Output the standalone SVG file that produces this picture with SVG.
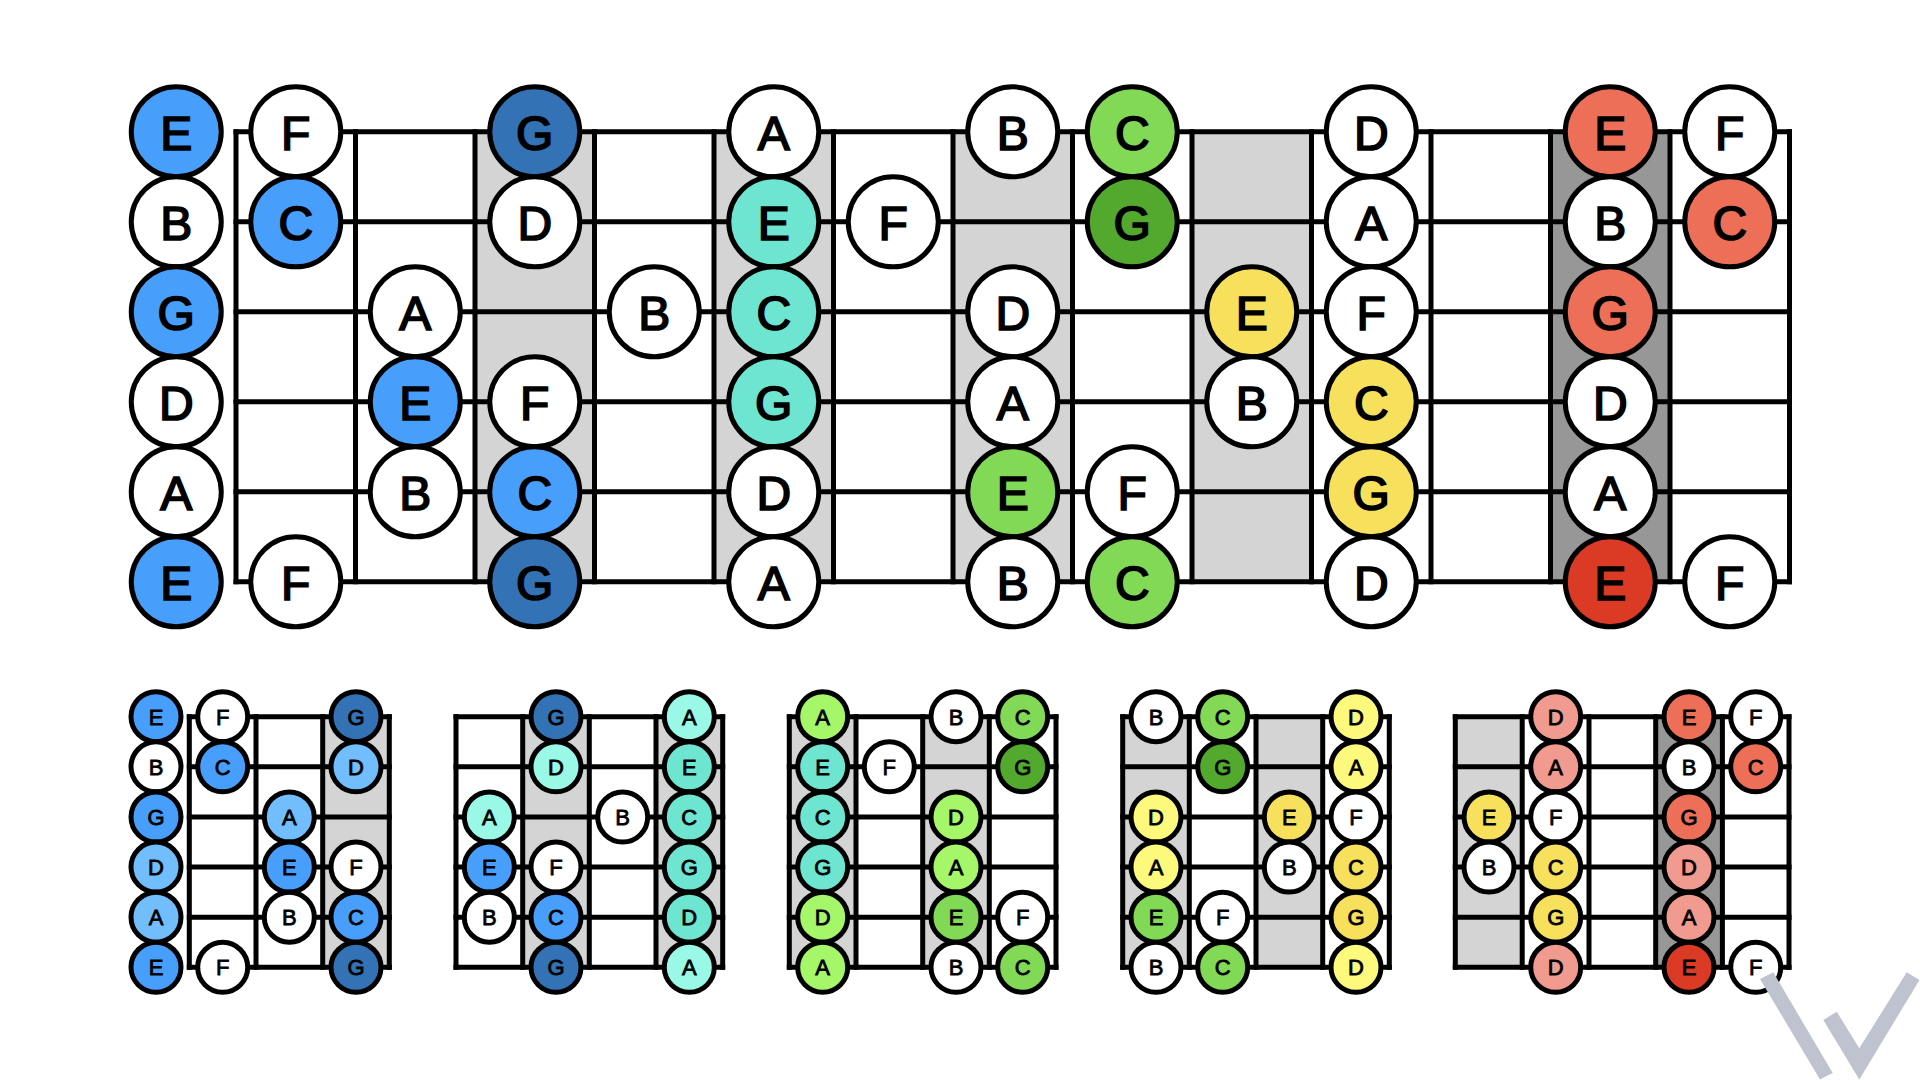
<svg xmlns="http://www.w3.org/2000/svg" width="1920" height="1080" viewBox="0 0 1920 1080">
<style>
.bg{fill:#fff}
.sh{fill:#d4d4d4}
.dk{fill:#979797}
.ln{stroke:#000;stroke-width:5;fill:none;stroke-linecap:square}
circle{stroke:#000;stroke-width:5}
text{font-family:"Liberation Sans",Arial,sans-serif;text-anchor:middle;fill:#000;stroke:#000}
.b text{font-size:48px;stroke-width:1.7px}
.s text{font-size:22px;stroke-width:.8px}
.w{fill:#fff}.bl{fill:#479ffb}.db{fill:#3272b5}.lb{fill:#72bdfb}
.lt{fill:#9af8e6}.t{fill:#6ee5d0}
.lg{fill:#a5f668}.g{fill:#82d955}.dg{fill:#52a92e}
.ly{fill:#fdf97c}.y{fill:#f6e05c}
.p{fill:#f19a90}.r{fill:#ed6f58}.dr{fill:#db3a25}
.wm{fill:#bfc3cf}
</style>
<rect class="bg" width="1920" height="1080"/>
<g id="connectors">
<g id="big-neck">
<rect class="sh" x="475" y="131.8" width="119.5" height="450"/>
<rect class="sh" x="714" y="131.8" width="119.5" height="450"/>
<rect class="sh" x="953" y="131.8" width="119.5" height="450"/>
<rect class="sh" x="1192" y="131.8" width="119.5" height="450"/>
<rect class="dk" x="1550.5" y="131.8" width="119.5" height="450"/>
<path class="ln" d="M236 131.8H1789.5M236 221.8H1789.5M236 311.8H1789.5M236 401.8H1789.5M236 491.8H1789.5M236 581.8H1789.5"/>
<path class="ln" d="M236 131.8V581.8M355.5 131.8V581.8M475 131.8V581.8M594.5 131.8V581.8M714 131.8V581.8M833.5 131.8V581.8M953 131.8V581.8M1072.5 131.8V581.8M1192 131.8V581.8M1311.5 131.8V581.8M1431 131.8V581.8M1550.5 131.8V581.8M1670 131.8V581.8M1789.5 131.8V581.8"/>
</g>
<g id="neck-1">
<rect class="sh" x="322.7" y="716.7" width="66.7" height="250.6"/>
<path class="ln" d="M189.3 716.7H389.3M189.3 766.8H389.3M189.3 817H389.3M189.3 867.1H389.3M189.3 917.2H389.3M189.3 967.3H389.3"/>
<path class="ln" d="M189.3 716.7V967.3M256 716.7V967.3M322.7 716.7V967.3M389.3 716.7V967.3"/>
</g>
<g id="neck-2">
<rect class="sh" x="522.7" y="716.7" width="66.7" height="250.6"/>
<rect class="sh" x="656" y="716.7" width="66.7" height="250.6"/>
<path class="ln" d="M456 716.7H722.7M456 766.8H722.7M456 817H722.7M456 867.1H722.7M456 917.2H722.7M456 967.3H722.7"/>
<path class="ln" d="M456 716.7V967.3M522.7 716.7V967.3M589.3 716.7V967.3M656 716.7V967.3M722.7 716.7V967.3"/>
</g>
<g id="neck-3">
<rect class="sh" x="789.3" y="716.7" width="66.7" height="250.6"/>
<rect class="sh" x="922.7" y="716.7" width="66.6" height="250.6"/>
<path class="ln" d="M789.3 716.7H1056M789.3 766.8H1056M789.3 817H1056M789.3 867.1H1056M789.3 917.2H1056M789.3 967.3H1056"/>
<path class="ln" d="M789.3 716.7V967.3M856 716.7V967.3M922.7 716.7V967.3M989.3 716.7V967.3M1056 716.7V967.3"/>
</g>
<g id="neck-4">
<rect class="sh" x="1122.7" y="716.7" width="66.6" height="250.6"/>
<rect class="sh" x="1256" y="716.7" width="66.7" height="250.6"/>
<path class="ln" d="M1122.7 716.7H1389.3M1122.7 766.8H1389.3M1122.7 817H1389.3M1122.7 867.1H1389.3M1122.7 917.2H1389.3M1122.7 967.3H1389.3"/>
<path class="ln" d="M1122.7 716.7V967.3M1189.3 716.7V967.3M1256 716.7V967.3M1322.7 716.7V967.3M1389.3 716.7V967.3"/>
</g>
<g id="neck-5">
<rect class="sh" x="1455.3" y="716.7" width="66.8" height="250.6"/>
<rect class="dk" x="1655.7" y="716.7" width="66.7" height="250.6"/>
<path class="ln" d="M1455.3 716.7H1789M1455.3 766.8H1789M1455.3 817H1789M1455.3 867.1H1789M1455.3 917.2H1789M1455.3 967.3H1789"/>
<path class="ln" d="M1455.3 716.7V967.3M1522.2 716.7V967.3M1589 716.7V967.3M1655.7 716.7V967.3M1722.4 716.7V967.3M1789 716.7V967.3"/>
</g>
</g>
<g id="big-notes" class="b">
<g id="b1-0" transform="translate(176.25,131.8)"><circle r="45" class="bl"/><text y="18">E</text></g>
<g id="b1-1" transform="translate(295.75,131.8)"><circle r="45" class="w"/><text y="18">F</text></g>
<g id="b1-3" transform="translate(534.75,131.8)"><circle r="45" class="db"/><text y="18">G</text></g>
<g id="b1-5" transform="translate(773.75,131.8)"><circle r="45" class="w"/><text y="18">A</text></g>
<g id="b1-7" transform="translate(1012.75,131.8)"><circle r="45" class="w"/><text y="18">B</text></g>
<g id="b1-8" transform="translate(1132.25,131.8)"><circle r="45" class="g"/><text y="18">C</text></g>
<g id="b1-10" transform="translate(1371.25,131.8)"><circle r="45" class="w"/><text y="18">D</text></g>
<g id="b1-12" transform="translate(1610.25,131.8)"><circle r="45" class="r"/><text y="18">E</text></g>
<g id="b1-13" transform="translate(1729.75,131.8)"><circle r="45" class="w"/><text y="18">F</text></g>
<g id="b2-0" transform="translate(176.25,221.8)"><circle r="45" class="w"/><text y="18">B</text></g>
<g id="b2-1" transform="translate(295.75,221.8)"><circle r="45" class="bl"/><text y="18">C</text></g>
<g id="b2-3" transform="translate(534.75,221.8)"><circle r="45" class="w"/><text y="18">D</text></g>
<g id="b2-5" transform="translate(773.75,221.8)"><circle r="45" class="t"/><text y="18">E</text></g>
<g id="b2-6" transform="translate(893.25,221.8)"><circle r="45" class="w"/><text y="18">F</text></g>
<g id="b2-8" transform="translate(1132.25,221.8)"><circle r="45" class="dg"/><text y="18">G</text></g>
<g id="b2-10" transform="translate(1371.25,221.8)"><circle r="45" class="w"/><text y="18">A</text></g>
<g id="b2-12" transform="translate(1610.25,221.8)"><circle r="45" class="w"/><text y="18">B</text></g>
<g id="b2-13" transform="translate(1729.75,221.8)"><circle r="45" class="r"/><text y="18">C</text></g>
<g id="b3-0" transform="translate(176.25,311.8)"><circle r="45" class="bl"/><text y="18">G</text></g>
<g id="b3-2" transform="translate(415.25,311.8)"><circle r="45" class="w"/><text y="18">A</text></g>
<g id="b3-4" transform="translate(654.25,311.8)"><circle r="45" class="w"/><text y="18">B</text></g>
<g id="b3-5" transform="translate(773.75,311.8)"><circle r="45" class="t"/><text y="18">C</text></g>
<g id="b3-7" transform="translate(1012.75,311.8)"><circle r="45" class="w"/><text y="18">D</text></g>
<g id="b3-9" transform="translate(1251.75,311.8)"><circle r="45" class="y"/><text y="18">E</text></g>
<g id="b3-10" transform="translate(1371.25,311.8)"><circle r="45" class="w"/><text y="18">F</text></g>
<g id="b3-12" transform="translate(1610.25,311.8)"><circle r="45" class="r"/><text y="18">G</text></g>
<g id="b4-0" transform="translate(176.25,401.8)"><circle r="45" class="w"/><text y="18">D</text></g>
<g id="b4-2" transform="translate(415.25,401.8)"><circle r="45" class="bl"/><text y="18">E</text></g>
<g id="b4-3" transform="translate(534.75,401.8)"><circle r="45" class="w"/><text y="18">F</text></g>
<g id="b4-5" transform="translate(773.75,401.8)"><circle r="45" class="t"/><text y="18">G</text></g>
<g id="b4-7" transform="translate(1012.75,401.8)"><circle r="45" class="w"/><text y="18">A</text></g>
<g id="b4-9" transform="translate(1251.75,401.8)"><circle r="45" class="w"/><text y="18">B</text></g>
<g id="b4-10" transform="translate(1371.25,401.8)"><circle r="45" class="y"/><text y="18">C</text></g>
<g id="b4-12" transform="translate(1610.25,401.8)"><circle r="45" class="w"/><text y="18">D</text></g>
<g id="b5-0" transform="translate(176.25,491.8)"><circle r="45" class="w"/><text y="18">A</text></g>
<g id="b5-2" transform="translate(415.25,491.8)"><circle r="45" class="w"/><text y="18">B</text></g>
<g id="b5-3" transform="translate(534.75,491.8)"><circle r="45" class="bl"/><text y="18">C</text></g>
<g id="b5-5" transform="translate(773.75,491.8)"><circle r="45" class="w"/><text y="18">D</text></g>
<g id="b5-7" transform="translate(1012.75,491.8)"><circle r="45" class="g"/><text y="18">E</text></g>
<g id="b5-8" transform="translate(1132.25,491.8)"><circle r="45" class="w"/><text y="18">F</text></g>
<g id="b5-10" transform="translate(1371.25,491.8)"><circle r="45" class="y"/><text y="18">G</text></g>
<g id="b5-12" transform="translate(1610.25,491.8)"><circle r="45" class="w"/><text y="18">A</text></g>
<g id="b6-0" transform="translate(176.25,581.8)"><circle r="45" class="bl"/><text y="18">E</text></g>
<g id="b6-1" transform="translate(295.75,581.8)"><circle r="45" class="w"/><text y="18">F</text></g>
<g id="b6-3" transform="translate(534.75,581.8)"><circle r="45" class="db"/><text y="18">G</text></g>
<g id="b6-5" transform="translate(773.75,581.8)"><circle r="45" class="w"/><text y="18">A</text></g>
<g id="b6-7" transform="translate(1012.75,581.8)"><circle r="45" class="w"/><text y="18">B</text></g>
<g id="b6-8" transform="translate(1132.25,581.8)"><circle r="45" class="g"/><text y="18">C</text></g>
<g id="b6-10" transform="translate(1371.25,581.8)"><circle r="45" class="w"/><text y="18">D</text></g>
<g id="b6-12" transform="translate(1610.25,581.8)"><circle r="45" class="dr"/><text y="18">E</text></g>
<g id="b6-13" transform="translate(1729.75,581.8)"><circle r="45" class="w"/><text y="18">F</text></g>
</g>
<g id="notes-1" class="s">
<g id="d1-1-0" transform="translate(156,716.7)"><circle r="25" class="bl"/><text y="8">E</text></g>
<g id="d1-1-1" transform="translate(222.7,716.7)"><circle r="25" class="w"/><text y="8">F</text></g>
<g id="d1-1-3" transform="translate(356,716.7)"><circle r="25" class="db"/><text y="8">G</text></g>
<g id="d1-2-0" transform="translate(156,766.8)"><circle r="25" class="w"/><text y="8">B</text></g>
<g id="d1-2-1" transform="translate(222.7,766.8)"><circle r="25" class="bl"/><text y="8">C</text></g>
<g id="d1-2-3" transform="translate(356,766.8)"><circle r="25" class="lb"/><text y="8">D</text></g>
<g id="d1-3-0" transform="translate(156,817)"><circle r="25" class="bl"/><text y="8">G</text></g>
<g id="d1-3-2" transform="translate(289.3,817)"><circle r="25" class="lb"/><text y="8">A</text></g>
<g id="d1-4-0" transform="translate(156,867.1)"><circle r="25" class="lb"/><text y="8">D</text></g>
<g id="d1-4-2" transform="translate(289.3,867.1)"><circle r="25" class="bl"/><text y="8">E</text></g>
<g id="d1-4-3" transform="translate(356,867.1)"><circle r="25" class="w"/><text y="8">F</text></g>
<g id="d1-5-0" transform="translate(156,917.2)"><circle r="25" class="lb"/><text y="8">A</text></g>
<g id="d1-5-2" transform="translate(289.3,917.2)"><circle r="25" class="w"/><text y="8">B</text></g>
<g id="d1-5-3" transform="translate(356,917.2)"><circle r="25" class="bl"/><text y="8">C</text></g>
<g id="d1-6-0" transform="translate(156,967.3)"><circle r="25" class="bl"/><text y="8">E</text></g>
<g id="d1-6-1" transform="translate(222.7,967.3)"><circle r="25" class="w"/><text y="8">F</text></g>
<g id="d1-6-3" transform="translate(356,967.3)"><circle r="25" class="db"/><text y="8">G</text></g>
</g>
<g id="notes-2" class="s">
<g id="d2-1-2" transform="translate(556,716.7)"><circle r="25" class="db"/><text y="8">G</text></g>
<g id="d2-1-4" transform="translate(689.3,716.7)"><circle r="25" class="lt"/><text y="8">A</text></g>
<g id="d2-2-2" transform="translate(556,766.8)"><circle r="25" class="lt"/><text y="8">D</text></g>
<g id="d2-2-4" transform="translate(689.3,766.8)"><circle r="25" class="t"/><text y="8">E</text></g>
<g id="d2-3-1" transform="translate(489.3,817)"><circle r="25" class="lt"/><text y="8">A</text></g>
<g id="d2-3-3" transform="translate(622.7,817)"><circle r="25" class="w"/><text y="8">B</text></g>
<g id="d2-3-4" transform="translate(689.3,817)"><circle r="25" class="t"/><text y="8">C</text></g>
<g id="d2-4-1" transform="translate(489.3,867.1)"><circle r="25" class="bl"/><text y="8">E</text></g>
<g id="d2-4-2" transform="translate(556,867.1)"><circle r="25" class="w"/><text y="8">F</text></g>
<g id="d2-4-4" transform="translate(689.3,867.1)"><circle r="25" class="t"/><text y="8">G</text></g>
<g id="d2-5-1" transform="translate(489.3,917.2)"><circle r="25" class="w"/><text y="8">B</text></g>
<g id="d2-5-2" transform="translate(556,917.2)"><circle r="25" class="bl"/><text y="8">C</text></g>
<g id="d2-5-4" transform="translate(689.3,917.2)"><circle r="25" class="t"/><text y="8">D</text></g>
<g id="d2-6-2" transform="translate(556,967.3)"><circle r="25" class="db"/><text y="8">G</text></g>
<g id="d2-6-4" transform="translate(689.3,967.3)"><circle r="25" class="lt"/><text y="8">A</text></g>
</g>
<g id="notes-3" class="s">
<g id="d3-1-1" transform="translate(822.7,716.7)"><circle r="25" class="lg"/><text y="8">A</text></g>
<g id="d3-1-3" transform="translate(956,716.7)"><circle r="25" class="w"/><text y="8">B</text></g>
<g id="d3-1-4" transform="translate(1022.7,716.7)"><circle r="25" class="g"/><text y="8">C</text></g>
<g id="d3-2-1" transform="translate(822.7,766.8)"><circle r="25" class="t"/><text y="8">E</text></g>
<g id="d3-2-2" transform="translate(889.3,766.8)"><circle r="25" class="w"/><text y="8">F</text></g>
<g id="d3-2-4" transform="translate(1022.7,766.8)"><circle r="25" class="dg"/><text y="8">G</text></g>
<g id="d3-3-1" transform="translate(822.7,817)"><circle r="25" class="t"/><text y="8">C</text></g>
<g id="d3-3-3" transform="translate(956,817)"><circle r="25" class="lg"/><text y="8">D</text></g>
<g id="d3-4-1" transform="translate(822.7,867.1)"><circle r="25" class="t"/><text y="8">G</text></g>
<g id="d3-4-3" transform="translate(956,867.1)"><circle r="25" class="lg"/><text y="8">A</text></g>
<g id="d3-5-1" transform="translate(822.7,917.2)"><circle r="25" class="lg"/><text y="8">D</text></g>
<g id="d3-5-3" transform="translate(956,917.2)"><circle r="25" class="g"/><text y="8">E</text></g>
<g id="d3-5-4" transform="translate(1022.7,917.2)"><circle r="25" class="w"/><text y="8">F</text></g>
<g id="d3-6-1" transform="translate(822.7,967.3)"><circle r="25" class="lg"/><text y="8">A</text></g>
<g id="d3-6-3" transform="translate(956,967.3)"><circle r="25" class="w"/><text y="8">B</text></g>
<g id="d3-6-4" transform="translate(1022.7,967.3)"><circle r="25" class="g"/><text y="8">C</text></g>
</g>
<g id="notes-4" class="s">
<g id="d4-1-1" transform="translate(1156,716.7)"><circle r="25" class="w"/><text y="8">B</text></g>
<g id="d4-1-2" transform="translate(1222.7,716.7)"><circle r="25" class="g"/><text y="8">C</text></g>
<g id="d4-1-4" transform="translate(1356,716.7)"><circle r="25" class="ly"/><text y="8">D</text></g>
<g id="d4-2-2" transform="translate(1222.7,766.8)"><circle r="25" class="dg"/><text y="8">G</text></g>
<g id="d4-2-4" transform="translate(1356,766.8)"><circle r="25" class="ly"/><text y="8">A</text></g>
<g id="d4-3-1" transform="translate(1156,817)"><circle r="25" class="ly"/><text y="8">D</text></g>
<g id="d4-3-3" transform="translate(1289.3,817)"><circle r="25" class="y"/><text y="8">E</text></g>
<g id="d4-3-4" transform="translate(1356,817)"><circle r="25" class="w"/><text y="8">F</text></g>
<g id="d4-4-1" transform="translate(1156,867.1)"><circle r="25" class="ly"/><text y="8">A</text></g>
<g id="d4-4-3" transform="translate(1289.3,867.1)"><circle r="25" class="w"/><text y="8">B</text></g>
<g id="d4-4-4" transform="translate(1356,867.1)"><circle r="25" class="y"/><text y="8">C</text></g>
<g id="d4-5-1" transform="translate(1156,917.2)"><circle r="25" class="g"/><text y="8">E</text></g>
<g id="d4-5-2" transform="translate(1222.7,917.2)"><circle r="25" class="w"/><text y="8">F</text></g>
<g id="d4-5-4" transform="translate(1356,917.2)"><circle r="25" class="y"/><text y="8">G</text></g>
<g id="d4-6-1" transform="translate(1156,967.3)"><circle r="25" class="w"/><text y="8">B</text></g>
<g id="d4-6-2" transform="translate(1222.7,967.3)"><circle r="25" class="g"/><text y="8">C</text></g>
<g id="d4-6-4" transform="translate(1356,967.3)"><circle r="25" class="ly"/><text y="8">D</text></g>
</g>
<g id="notes-5" class="s">
<g id="d5-1-2" transform="translate(1555.7,716.7)"><circle r="25" class="p"/><text y="8">D</text></g>
<g id="d5-1-4" transform="translate(1689,716.7)"><circle r="25" class="r"/><text y="8">E</text></g>
<g id="d5-1-5" transform="translate(1755.7,716.7)"><circle r="25" class="w"/><text y="8">F</text></g>
<g id="d5-2-2" transform="translate(1555.7,766.8)"><circle r="25" class="p"/><text y="8">A</text></g>
<g id="d5-2-4" transform="translate(1689,766.8)"><circle r="25" class="w"/><text y="8">B</text></g>
<g id="d5-2-5" transform="translate(1755.7,766.8)"><circle r="25" class="r"/><text y="8">C</text></g>
<g id="d5-3-1" transform="translate(1489,817)"><circle r="25" class="y"/><text y="8">E</text></g>
<g id="d5-3-2" transform="translate(1555.7,817)"><circle r="25" class="w"/><text y="8">F</text></g>
<g id="d5-3-4" transform="translate(1689,817)"><circle r="25" class="r"/><text y="8">G</text></g>
<g id="d5-4-1" transform="translate(1489,867.1)"><circle r="25" class="w"/><text y="8">B</text></g>
<g id="d5-4-2" transform="translate(1555.7,867.1)"><circle r="25" class="y"/><text y="8">C</text></g>
<g id="d5-4-4" transform="translate(1689,867.1)"><circle r="25" class="p"/><text y="8">D</text></g>
<g id="d5-5-2" transform="translate(1555.7,917.2)"><circle r="25" class="y"/><text y="8">G</text></g>
<g id="d5-5-4" transform="translate(1689,917.2)"><circle r="25" class="p"/><text y="8">A</text></g>
<g id="d5-6-2" transform="translate(1555.7,967.3)"><circle r="25" class="p"/><text y="8">D</text></g>
<g id="d5-6-4" transform="translate(1689,967.3)"><circle r="25" class="dr"/><text y="8">E</text></g>
<g id="d5-6-5" transform="translate(1755.7,967.3)"><circle r="25" class="w"/><text y="8">F</text></g>
</g>
<g id="watermark">
<polygon class="wm" points="1760,979 1773.3,972.3 1832.7,1073 1820,1079.5"/>
<polygon class="wm" points="1823.3,1020 1836.7,1011.7 1859.3,1048.3 1906.7,972.3 1919.5,980 1859.3,1079.5"/>
</g>
</svg>
